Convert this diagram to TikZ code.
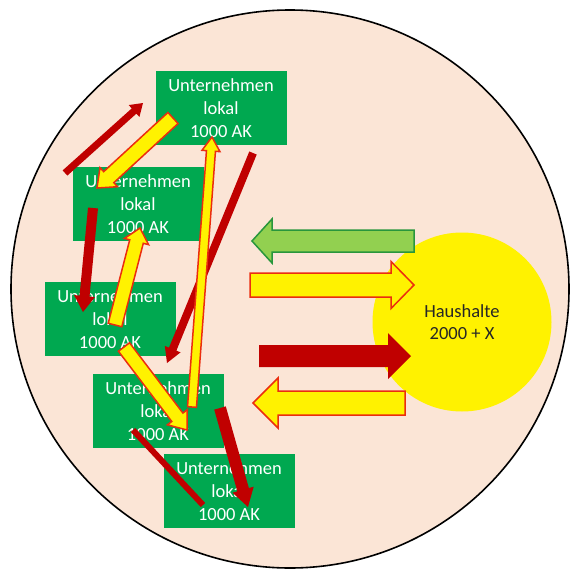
\documentclass[tikz,border=0pt]{standalone}
\usepackage{fontspec}
\setmainfont{Carlito}
\usetikzlibrary{calc}

\definecolor{peach}{RGB}{251,229,214}
\definecolor{boxgreen}{RGB}{0,168,80}
\definecolor{lightgreen}{RGB}{146,208,80}
\definecolor{arrowgreenedge}{RGB}{40,150,60}
\definecolor{darkred}{RGB}{192,0,0}
\definecolor{edgered}{RGB}{235,45,15}

% block arrow: #1 style, #2 tail, #3 tip, #4 half shaft width, #5 half head width, #6 head length
\newcommand\blockarrow[6]{%
  \coordinate (ba) at ($(#3)!#6!(#2)$);
  \path[#1] ($(#2)!#4!90:(#3)$) -- ($(ba)!#4!-90:(#2)$) -- ($(ba)!#5!-90:(#2)$)
    -- (#3) -- ($(ba)!#5!90:(#2)$) -- ($(ba)!#4!90:(#2)$) -- ($(#2)!#4!-90:(#3)$) -- cycle;}

\tikzset{
  firm/.style={fill=boxgreen, text=white, minimum width=131pt, minimum height=74pt,
    inner sep=0pt, align=center, font=\fontsize{18.5}{23}\selectfont},
  redflow/.style={fill=darkred},
  yellowflow/.style={fill=yellow, draw=edgered, line width=1.5pt, line join=miter},
  greenflow/.style={fill=lightgreen, draw=arrowgreenedge, line width=1.5pt, line join=miter},
}

\begin{document}
\begin{tikzpicture}[x=1pt, y=-1pt]
\useasboundingbox (0,0) rectangle (570,573);

% region and households
\node[circle, draw=black, line width=1.6pt, fill=peach, minimum size=558pt, inner sep=0pt] (region) at (290,289) {};
\node[circle, fill=yellow, minimum size=179pt, inner sep=0pt, align=center,
      font=\fontsize{18.5}{22}\selectfont, text=black!85] (haus) at (462,322) {Haushalte\\2000 + X};

% local firms
\node[firm] (u1) at (221,108) {Unternehmen\\lokal\\1000 AK};
\node[firm] (u2) at (138,204) {Unternehmen\\lokal\\1000 AK};
\node[firm] (u3) at (110,319) {Unternehmen\\lokal\\1000 AK};
\node[firm] (u4) at (158,411) {Unternehmen\\lokal\\1000 AK};
\node[firm] (u5) at (229,491) {Unternehmen\\lokal\\1000 AK};

% end points of the flows between firms
\coordinate (a0) at (65,173);  \coordinate (a1) at (143,103);
\coordinate (b0) at (173,118); \coordinate (b1) at (97,188);
\coordinate (c0) at (192,407); \coordinate (c1) at (212,137);
\coordinate (d0) at (253,153); \coordinate (d1) at (167,363);
\coordinate (e0) at (93,208);  \coordinate (e1) at (83,312);
\coordinate (f0) at (115,325); \coordinate (f1) at (140,228);
\coordinate (g0) at (124,347); \coordinate (g1) at (187,430);
\coordinate (h0) at (133,430); \coordinate (h1) at (203,505);
\coordinate (i0) at (220,408); \coordinate (i1) at (248,507);

% flows to and from the households
\coordinate (k0) at (414,241); \coordinate (k1) at (252,241);
\coordinate (l0) at (250,285); \coordinate (l1) at (414,285);
\coordinate (m0) at (259,356); \coordinate (m1) at (411,356);
\coordinate (n0) at (405,403); \coordinate (n1) at (253,403);

% dark red flows
\blockarrow{redflow}{a0}{a1}{3.5pt}{8pt}{12pt}
\blockarrow{redflow}{d0}{d1}{4pt}{8.5pt}{15pt}
\blockarrow{redflow}{e0}{e1}{5pt}{10.5pt}{16pt}
\draw[darkred, line width=6pt] (h0) -- (h1);
\blockarrow{redflow}{i0}{i1}{6pt}{11pt}{18pt}

% yellow flows
\blockarrow{yellowflow}{b0}{b1}{7.5pt}{13pt}{16pt}
\blockarrow{yellowflow}{c0}{c1}{4.5pt}{9pt}{14pt}
\blockarrow{yellowflow}{f0}{f1}{7pt}{12.5pt}{14pt}
\blockarrow{yellowflow}{g0}{g1}{7pt}{12.5pt}{16pt}

% households
\blockarrow{greenflow}{k0}{k1}{11pt}{22pt}{20pt}
\blockarrow{yellowflow}{l0}{l1}{12pt}{23.5pt}{23pt}
\blockarrow{redflow}{m0}{m1}{11pt}{23pt}{23pt}
\blockarrow{yellowflow}{n0}{n1}{12pt}{25pt}{25pt}
\end{tikzpicture}
\end{document}
